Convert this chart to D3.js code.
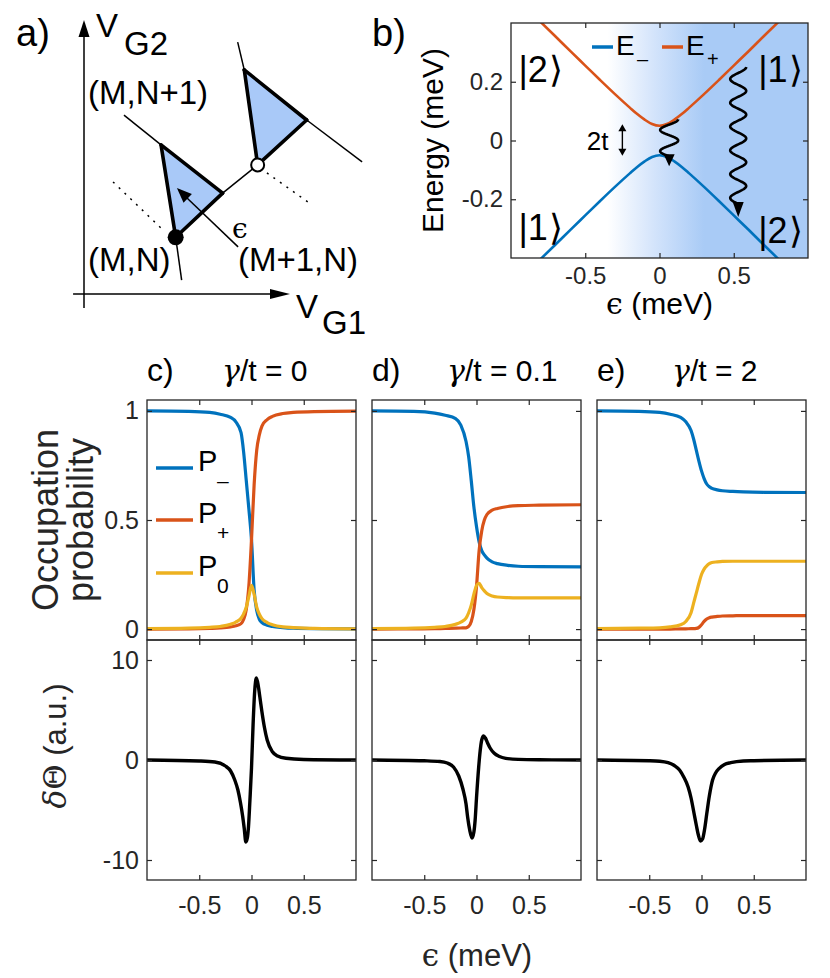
<!DOCTYPE html>
<html>
<head>
<meta charset="utf-8">
<script src="https://cdn.jsdelivr.net/npm/d3@7"></script>
<style>
  body { margin: 0; background: #fff; }
  svg { display: block; }
</style>
</head>
<body>
<div id="fig"></div>
<script>
'use strict';

const SANS = '"Liberation Sans", Arial, Helvetica, sans-serif';
const SERIF = '"DejaVu Serif", "Liberation Serif", serif';
const INK = '#262626';
const BLUE = '#0072bd';
const ORANGE = '#d95319';
const YELLOW = '#edb120';

// ---- panel b: energy levels (meV) ----
const epsB = [-0.84, -0.7, -0.6, -0.5, -0.4, -0.3, -0.2, -0.15, -0.1, -0.05, 0,
  0.05, 0.1, 0.15, 0.2, 0.3, 0.4, 0.5, 0.6, 0.7, 0.84];
const ePlus = [0.423, 0.354, 0.304, 0.255, 0.206, 0.158, 0.112, 0.090, 0.071, 0.056, 0.050,
  0.056, 0.071, 0.090, 0.112, 0.158, 0.206, 0.255, 0.304, 0.354, 0.423];
const eMinus = [-0.423, -0.354, -0.304, -0.255, -0.206, -0.158, -0.112, -0.090, -0.071, -0.056, -0.050,
  -0.056, -0.071, -0.090, -0.112, -0.158, -0.206, -0.255, -0.304, -0.354, -0.423];
const xTicksB = [-0.5, 0, 0.5];
const yTicksB = [-0.2, 0, 0.2];

// ---- panels c-e: occupation probabilities ----
const epsP = [-1, -0.6, -0.4, -0.3, -0.2, -0.15, -0.1, -0.075, -0.05, -0.025, 0,
  0.025, 0.05, 0.075, 0.1, 0.15, 0.2, 0.3, 0.4, 0.6, 1];

const pMinusC = [1.0, 0.998, 0.993, 0.985, 0.97, 0.95, 0.9, 0.81, 0.68, 0.55, 0.41,
  0.18, 0.085, 0.045, 0.03, 0.018, 0.012, 0.007, 0.004, 0.002, 0.001];
const pPlusC = [0.0, 0.001, 0.003, 0.005, 0.01, 0.015, 0.025, 0.045, 0.09, 0.2, 0.41,
  0.66, 0.82, 0.89, 0.93, 0.96, 0.975, 0.988, 0.993, 0.997, 0.999];
const pZeroC = [0.002, 0.004, 0.008, 0.012, 0.022, 0.032, 0.05, 0.07, 0.1, 0.15, 0.2,
  0.16, 0.1, 0.068, 0.048, 0.03, 0.02, 0.01, 0.007, 0.003, 0.001];

const pMinusD = [1.0, 0.998, 0.99, 0.98, 0.965, 0.935, 0.86, 0.79, 0.68, 0.56, 0.47,
  0.4, 0.36, 0.34, 0.325, 0.308, 0.3, 0.292, 0.288, 0.286, 0.285];
const pPlusD = [0.0, 0.001, 0.002, 0.003, 0.004, 0.005, 0.006, 0.012, 0.035, 0.09, 0.195,
  0.36, 0.45, 0.5, 0.525, 0.545, 0.553, 0.562, 0.566, 0.568, 0.57];
const pZeroD = [0.002, 0.004, 0.008, 0.012, 0.022, 0.032, 0.05, 0.075, 0.11, 0.16, 0.2,
  0.21, 0.19, 0.175, 0.163, 0.152, 0.147, 0.144, 0.143, 0.143, 0.143];

const pMinusE = [1.0, 0.998, 0.993, 0.985, 0.97, 0.95, 0.91, 0.87, 0.82, 0.77, 0.725,
  0.69, 0.665, 0.652, 0.645, 0.638, 0.634, 0.631, 0.629, 0.627, 0.626];
const pPlusE = [0.0, 0.0, 0.0, 0.0, 0.001, 0.001, 0.002, 0.002, 0.003, 0.008, 0.02,
  0.035, 0.046, 0.052, 0.055, 0.058, 0.06, 0.061, 0.062, 0.062, 0.062];
const pZeroE = [0.002, 0.004, 0.006, 0.01, 0.02, 0.035, 0.075, 0.12, 0.165, 0.21, 0.25,
  0.275, 0.29, 0.3, 0.305, 0.308, 0.31, 0.311, 0.311, 0.311, 0.311];

// ---- panels c-e: phase response (a.u.) ----
const epsThetaC = [-1, -0.5, -0.35, -0.25, -0.2, -0.16, -0.13, -0.105, -0.085, -0.07, -0.054, -0.04,
  -0.029, -0.015, 0, 0.015, 0.03, 0.047, 0.065, 0.08, 0.1, 0.123, 0.15, 0.2, 0.25, 0.33, 0.5, 1];
const thetaC = [0, -0.1, -0.2, -0.6, -1.1, -2.0, -3.0, -4.3, -5.6, -6.8, -8.2, -7.8,
  -6.7, -4.0, -0.8, 3.5, 6.8, 8.2, 7.4, 6.3, 4.8, 3.3, 2.0, 0.83, 0.4, 0.17, 0.05, 0];

const epsThetaD = [-1, -0.5, -0.35, -0.28, -0.22, -0.17, -0.13, -0.1, -0.085, -0.065, -0.043, -0.025,
  -0.013, 0, 0.021, 0.035, 0.05, 0.068, 0.085, 0.106, 0.13, 0.17, 0.22, 0.28, 0.4, 0.6, 1];
const thetaD = [0, -0.08, -0.15, -0.3, -0.7, -1.6, -2.9, -4.4, -5.7, -7.0, -7.8, -7.2,
  -6.0, -3.8, -0.7, 0.9, 2.0, 2.4, 2.2, 1.7, 1.2, 0.67, 0.35, 0.17, 0.06, 0.02, 0];

const epsThetaE = [-1, -0.5, -0.4, -0.32, -0.26, -0.21, -0.17, -0.128, -0.1, -0.072, -0.05, -0.03,
  -0.01, 0.01, 0.03, 0.05, 0.075, 0.106, 0.135, 0.17, 0.22, 0.28, 0.4, 0.5, 1];
const thetaE = [0, -0.07, -0.12, -0.27, -0.55, -1.0, -1.7, -2.7, -3.8, -5.3, -6.5, -7.5,
  -8.1, -7.9, -6.9, -5.4, -3.6, -2.0, -1.3, -0.83, -0.45, -0.27, -0.1, -0.07, 0];

const panelLetters = ['c)', 'd)', 'e)'];
const gammaValues = ['0', '0.1', '2'];
const xTicks = [-0.5, 0, 0.5];
const yTicksP = [0, 0.5, 1];
const yTicksT = [-10, 0, 10];
const legendNames = ['\u2013', '+', '0'];

const panels = [
  { p: [pMinusC, pPlusC, pZeroC], eps: epsThetaC, theta: thetaC },
  { p: [pMinusD, pPlusD, pZeroD], eps: epsThetaD, theta: thetaD },
  { p: [pMinusE, pPlusE, pZeroE], eps: epsThetaE, theta: thetaE },
];
const colors = [BLUE, ORANGE, YELLOW];

const svg = d3.select('#fig')
  .append('svg')
  .attr('width', 830)
  .attr('height', 978)
  .attr('font-family', SANS);

const fmt = (d) => String(d);

// box with inward ticks on all four sides, labels on left/bottom when asked
const frame = (g, x, y, xt, yt, opts) => {
  const [x0, x1] = x.range();
  const [yb, yt0] = y.range();
  const side = (axis, tr, values, labels, pad) => {
    const a = g.append('g')
      .attr('transform', tr)
      .call(axis.tickValues(values).tickSize(-5).tickPadding(pad)
        .tickFormat(labels ? fmt : () => ''));
    a.select('.domain').remove();
    a.selectAll('line').attr('stroke', INK).attr('stroke-width', 1.2);
    a.selectAll('text')
      .attr('font-size', opts.fs)
      .attr('font-family', SANS)
      .attr('fill', INK);
  };
  side(d3.axisBottom(x), `translate(0,${yb})`, xt, opts.xLabels, opts.xPad);
  side(d3.axisTop(x), `translate(0,${yt0})`, xt, false, 0);
  side(d3.axisLeft(y), `translate(${x0},0)`, yt, opts.yLabels, opts.yPad);
  side(d3.axisRight(y), `translate(${x1},0)`, yt, false, 0);
  g.append('rect')
    .attr('x', x0)
    .attr('y', yt0)
    .attr('width', x1 - x0)
    .attr('height', yb - yt0)
    .attr('fill', 'none')
    .attr('stroke', INK)
    .attr('stroke-width', 1.3);
};

const arrowHead = (g, from, to, len, half) => {
  const [fx, fy] = from;
  const [tx, ty] = to;
  const L = Math.hypot(tx - fx, ty - fy);
  const ux = (tx - fx) / L;
  const uy = (ty - fy) / L;
  const bx = tx - ux * len;
  const by = ty - uy * len;
  g.append('path')
    .attr('d', `M${tx},${ty}L${bx - uy * half},${by + ux * half}L${bx + uy * half},${by - ux * half}Z`)
    .attr('fill', '#000');
};

// ================= panel a: schematic =================
const xA = d3.scaleLinear().domain([0, 1]).range([84, 290]);
const yA = d3.scaleLinear().domain([0, 1]).range([294, 20]);

const triLow = [[0.374, 0.544], [0.673, 0.368], [0.445, 0.207]];
const triHigh = [[0.778, 0.818], [1.081, 0.635], [0.843, 0.471]];
const thinLines = [
  [[0.194, 0.653], triLow[0]],
  [triLow[2], [0.474, 0.051]],
  [[0.746, 0.919], triHigh[0]],
  [triHigh[1], [1.35, 0.482]],
  [triLow[1], triHigh[2]],
];
const thickLines = [
  [triLow[0], triLow[1]], [triLow[0], triLow[2]], [triLow[2], triLow[1]],
  [triHigh[0], triHigh[1]], [triHigh[0], triHigh[2]], [triHigh[2], triHigh[1]],
];
const dottedLines = [
  [[0.141, 0.409], [0.383, 0.234]],
  [[0.888, 0.442], [1.107, 0.325]],
];
const epsArrowA = [[0.748, 0.172], [0.451, 0.387]];

const gA = svg.append('g');
const pt = (d) => [xA(d[0]), yA(d[1])];

[triLow, triHigh].forEach((tri) => {
  gA.append('path')
    .attr('d', d3.line()(tri.map(pt)) + 'Z')
    .attr('fill', '#a9c9f8')
    .attr('stroke', 'none');
});

thinLines.forEach((l) => {
  gA.append('path').attr('d', d3.line()(l.map(pt)))
    .attr('stroke', '#000').attr('stroke-width', 1.5).attr('fill', 'none');
});
thickLines.forEach((l) => {
  gA.append('path').attr('d', d3.line()(l.map(pt)))
    .attr('stroke', '#000').attr('stroke-width', 3.6).attr('fill', 'none')
    .attr('stroke-linecap', 'round');
});
dottedLines.forEach((l) => {
  gA.append('path').attr('d', d3.line()(l.map(pt)))
    .attr('stroke', '#000').attr('stroke-width', 1.5).attr('fill', 'none')
    .attr('stroke-dasharray', '2,6');
});

// axes of the stability diagram
gA.append('line').attr('x1', xA(0)).attr('y1', yA(-0.051)).attr('x2', xA(0)).attr('y2', yA(0.96))
  .attr('stroke', '#000').attr('stroke-width', 1.5);
arrowHead(gA, [xA(0), yA(0)], [xA(0), yA(1)], 17, 5.5);
gA.append('line').attr('x1', xA(-0.053)).attr('y1', yA(0)).attr('x2', xA(0.95)).attr('y2', yA(0))
  .attr('stroke', '#000').attr('stroke-width', 1.5);
arrowHead(gA, [xA(0), yA(0)], [xA(1), yA(0)], 20, 5);

// detuning arrow
gA.append('line')
  .attr('x1', xA(epsArrowA[0][0])).attr('y1', yA(epsArrowA[0][1]))
  .attr('x2', xA(epsArrowA[1][0]) + 8).attr('y2', yA(epsArrowA[1][1]) + 8)
  .attr('stroke', '#000').attr('stroke-width', 1.5);
arrowHead(gA, pt(epsArrowA[0]), pt(epsArrowA[1]), 15, 6);

gA.append('circle').attr('cx', xA(triLow[2][0])).attr('cy', yA(triLow[2][1])).attr('r', 8)
  .attr('fill', '#000');
gA.append('circle').attr('cx', xA(triHigh[2][0])).attr('cy', yA(triHigh[2][1])).attr('r', 6.5)
  .attr('fill', '#fff').attr('stroke', '#000').attr('stroke-width', 2);

const textA = [
  { t: '(M,N+1)', x: 88, y: 104 },
  { t: '(M,N)', x: 88, y: 271 },
  { t: '(M+1,N)', x: 238, y: 271 },
];
textA.forEach((d) => {
  gA.append('text').attr('x', d.x).attr('y', d.y).attr('font-size', 33).text(d.t);
});
gA.append('text').attr('x', 232).attr('y', 238).attr('font-size', 28)
  .attr('font-family', SERIF).text('\u03f5');
gA.append('text').attr('x', 96).attr('y', 37).attr('font-size', 33).text('V');
gA.append('text').attr('x', 124).attr('y', 55).attr('font-size', 33).text('G2');
gA.append('text').attr('x', 296).attr('y', 318).attr('font-size', 33).text('V');
gA.append('text').attr('x', 322).attr('y', 334).attr('font-size', 33).text('G1');
svg.append('text').attr('x', 16).attr('y', 46).attr('font-size', 38).text('a)');

// ================= panel b: energy levels =================
const xB = d3.scaleLinear().domain([-1, 1]).range([511, 808]);
const yB = d3.scaleLinear().domain([-0.4, 0.4]).range([258, 23]);
const gB = svg.append('g');
const defs = svg.append('defs');

const grad = defs.append('linearGradient')
  .attr('id', 'bgGrad')
  .attr('gradientUnits', 'userSpaceOnUse')
  .attr('x1', xB(-0.35)).attr('x2', xB(0.3))
  .attr('y1', 0).attr('y2', 0);
grad.append('stop').attr('offset', 0).attr('stop-color', '#ffffff');
grad.append('stop').attr('offset', 0.5).attr('stop-color', '#d2e3fb');
grad.append('stop').attr('offset', 1).attr('stop-color', '#a9cbf6');

defs.append('clipPath').attr('id', 'clipB')
  .append('rect')
  .attr('x', xB(-1)).attr('y', yB(0.4))
  .attr('width', xB(1) - xB(-1)).attr('height', yB(-0.4) - yB(0.4));

gB.append('rect')
  .attr('x', xB(-1)).attr('y', yB(0.4))
  .attr('width', xB(1) - xB(-1)).attr('height', yB(-0.4) - yB(0.4))
  .attr('fill', 'url(#bgGrad)');

const lineB = d3.line().curve(d3.curveMonotoneX);
[[eMinus, BLUE], [ePlus, ORANGE]].forEach(([vals, c]) => {
  gB.append('path')
    .attr('clip-path', 'url(#clipB)')
    .attr('d', lineB(epsB.map((e, i) => [xB(e), yB(vals[i])])))
    .attr('fill', 'none')
    .attr('stroke', c)
    .attr('stroke-width', 2.6);
});

// wavy relaxation arrows
const waves = [
  { eps: 0.065, top: 0.072, bottom: -0.088, amp: 9, periods: 1.75, head: 12 },
  { eps: 0.53, top: 0.25, bottom: -0.26, amp: 8, periods: 5.75, head: 15 },
];
waves.forEach((w) => {
  const cx = xB(w.eps);
  const y0 = yB(w.top);
  const yTip = yB(w.bottom);
  const y1 = yTip - w.head + 2;
  const pts = d3.range(0, 201).map((i) => {
    const s = i / 200;
    return [cx + w.amp * Math.sin(Math.PI / 2 + 2 * Math.PI * w.periods * s), y0 + s * (y1 - y0)];
  });
  gB.append('path').attr('d', d3.line()(pts))
    .attr('fill', 'none').attr('stroke', '#000').attr('stroke-width', 2.6);
  arrowHead(gB, [cx, y0], [cx, yTip], w.head, 5.5);
});

// 2t marker
const gapArrow = { eps: -0.25, top: 0.055, bottom: -0.052 };
gB.append('line')
  .attr('x1', xB(gapArrow.eps)).attr('x2', xB(gapArrow.eps))
  .attr('y1', yB(gapArrow.top) + 4).attr('y2', yB(gapArrow.bottom) - 4)
  .attr('stroke', '#000').attr('stroke-width', 1.4);
arrowHead(gB, [xB(gapArrow.eps), yB(0)], [xB(gapArrow.eps), yB(gapArrow.top)], 7, 4);
arrowHead(gB, [xB(gapArrow.eps), yB(0)], [xB(gapArrow.eps), yB(gapArrow.bottom)], 7, 4);
gB.append('text').attr('x', xB(-0.49)).attr('y', yB(-0.032)).attr('font-size', 26).text('2t');

const stateLabels = [
  { n: '2', eps: -0.95, e: 0.2 },
  { n: '1', eps: -0.95, e: -0.34 },
  { n: '1', eps: 0.665, e: 0.2 },
  { n: '2', eps: 0.665, e: -0.35 },
];
stateLabels.forEach((d) => {
  gB.append('text')
    .attr('x', xB(d.eps)).attr('y', yB(d.e))
    .attr('font-size', 36)
    .text('|' + d.n)
    .append('tspan').attr('font-family', '"DejaVu Sans", sans-serif').attr('font-weight', 200)
    .attr('dx', 1).text('\u27e9');
});

// legend inside b
const legB = [
  { c: BLUE, sub: '\u2013', x: 592 },
  { c: ORANGE, sub: '+', x: 662 },
];
legB.forEach((d) => {
  gB.append('line').attr('x1', d.x).attr('x2', d.x + 21).attr('y1', 47).attr('y2', 47)
    .attr('stroke', d.c).attr('stroke-width', 3.5);
  gB.append('text').attr('x', d.x + 24).attr('y', 55).attr('font-size', 28).text('E');
  gB.append('text').attr('x', d.x + 45).attr('y', 66).attr('font-size', 20).text(d.sub);
});

frame(gB, xB, yB, xTicksB, yTicksB, { fs: 24, xLabels: true, yLabels: true, xPad: 9, yPad: 8 });

gB.append('text')
  .attr('transform', `translate(443,${yB(0)}) rotate(-90)`)
  .attr('text-anchor', 'middle')
  .attr('font-size', 30)
  .text('Energy (meV)');
const xlabB = gB.append('text')
  .attr('x', xB(0)).attr('y', 314)
  .attr('text-anchor', 'middle')
  .attr('font-size', 30);
xlabB.append('tspan').attr('font-family', SERIF).text('\u03f5');
xlabB.append('tspan').text(' (meV)');
svg.append('text').attr('x', 372).attr('y', 46).attr('font-size', 38).text('b)');

// ================= panels c-e =================
const panelLeft = [147, 372, 597];
const panelWidth = 209;
const yP = d3.scaleLinear().domain([-0.05, 1.05]).range([640, 400]);
const yT = d3.scaleLinear().domain([-12, 12]).range([880, 640]);
const lineP = d3.line().curve(d3.curveMonotoneX);

panels.forEach((pd, k) => {
  const x = d3.scaleLinear().domain([-1, 1]).range([panelLeft[k], panelLeft[k] + panelWidth]);
  const g = svg.append('g');
  const first = k === 0;

  // probabilities: P-, then P+, then P0 on top
  [0, 1, 2].forEach((j) => {
    g.append('path')
      .attr('d', lineP(epsP.map((e, i) => [x(e), yP(pd.p[j][i])])))
      .attr('fill', 'none')
      .attr('stroke', colors[j])
      .attr('stroke-width', 3.2);
  });
  frame(g, x, yP, xTicks, yTicksP, { fs: 25, xLabels: false, yLabels: first, xPad: 0, yPad: 8 });

  // phase response
  g.append('path')
    .attr('d', lineP(pd.eps.map((e, i) => [x(e), yT(pd.theta[i])])))
    .attr('fill', 'none')
    .attr('stroke', '#000')
    .attr('stroke-width', 3.4);
  frame(g, x, yT, xTicks, yTicksT, { fs: 25, xLabels: true, yLabels: first, xPad: 16, yPad: 8 });

  // titles
  svg.append('text').attr('x', panelLeft[k]).attr('y', 381).attr('font-size', 32)
    .text(panelLetters[k]);
  const title = svg.append('text').attr('x', panelLeft[k] + 75).attr('y', 381).attr('font-size', 30);
  title.append('tspan').attr('font-family', SERIF).attr('font-style', 'italic').text('\u03b3');
  title.append('tspan').text('/t = ' + gammaValues[k]);
});

// legend in panel c
legendNames.forEach((name, j) => {
  const ly = [468, 520, 573][j];
  svg.append('line').attr('x1', 156).attr('x2', 193).attr('y1', ly).attr('y2', ly)
    .attr('stroke', colors[j]).attr('stroke-width', 3.5);
  svg.append('text').attr('x', 198).attr('y', ly + 3).attr('font-size', 29).text('P');
  svg.append('text').attr('x', 217).attr('y', ly + 20).attr('font-size', 21).text(name);
});

// axis labels for c-e
svg.append('text')
  .attr('transform', `translate(58,${yP(0.5)}) rotate(-90)`)
  .attr('text-anchor', 'middle').attr('font-size', 36).attr('fill', INK)
  .text('Occupation');
svg.append('text')
  .attr('transform', `translate(93,${yP(0.5)}) rotate(-90)`)
  .attr('text-anchor', 'middle').attr('font-size', 36).attr('fill', INK)
  .text('probability');
const ylabT = svg.append('text')
  .attr('transform', `translate(66,${yT(0) - 14}) rotate(-90)`)
  .attr('text-anchor', 'middle').attr('font-size', 31).attr('fill', INK);
ylabT.append('tspan').attr('font-family', SERIF).attr('font-style', 'italic').text('\u03b4');
ylabT.append('tspan').attr('font-family', SERIF).text('\u0398');
ylabT.append('tspan').text(' (a.u.)');

const xlab = svg.append('text')
  .attr('x', 477).attr('y', 966)
  .attr('text-anchor', 'middle').attr('font-size', 31).attr('fill', INK);
xlab.append('tspan').attr('font-family', SERIF).text('\u03f5');
xlab.append('tspan').text(' (meV)');
</script>
</body>
</html>
